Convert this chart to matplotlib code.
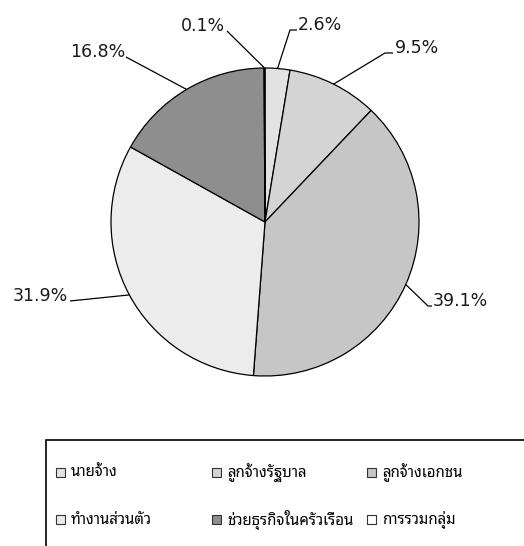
import numpy as np
import matplotlib
matplotlib.use("Agg")
import matplotlib.pyplot as plt
from matplotlib.patches import Rectangle

# data
categories = ["นายจ้าง", "ลูกจ้างรัฐบาล", "ลูกจ้างเอกชน",
              "ทำงานส่วนตัว", "ช่วยธุรกิจในครัวเรือน", "การรวมกลุ่ม"]
shares = [2.6, 9.5, 39.1, 31.9, 16.8, 0.1]
colors = ["#e2e2e2", "#d4d4d4", "#c6c6c6", "#ececec", "#8e8e8e", "#ffffff"]

W, H = 524, 546

def py(y):
    # pixel row (from top) -> data y
    return H - y

fig = plt.figure(figsize=(W / 100, H / 100), dpi=100)
ax = fig.add_axes([0, 0, 1, 1])

wedges, _ = ax.pie(shares, colors=colors, startangle=90, counterclock=False,
                   center=(265, py(222)), radius=154,
                   wedgeprops=dict(edgecolor="black", linewidth=0.9))

ax.set_xlim(0, W)
ax.set_ylim(0, H)
ax.set_aspect("auto")
ax.set_axis_off()

# label layout: (text x, text baseline y, ha, elbow x, stub end x)
label_pos = [
    (298, 30, "left", 290, 297),
    (395, 53, "left", 385, 393),
    (433, 306, "left", 428, 432),
    (68, 301, "right", 128, 70),
    (125, 57, "right", 131, 126),
    (225, 31, "right", 232, 227),
]

for w, v, (tx, ty, ha, ex, sx) in zip(wedges, shares, label_pos):
    mid = np.deg2rad((w.theta1 + w.theta2) / 2)
    cx, cy = w.center
    px_ = cx + w.r * np.cos(mid)
    py_ = cy + w.r * np.sin(mid)
    if ha == "right" and ex < px_ and sx < ex:
        xs = [px_, sx]
        ys = [py_, py(ty)]
    else:
        xs = [px_, ex, sx]
        ys = [py_, py(ty), py(ty)]
    ax.plot(xs, ys, color="black", linewidth=0.9, solid_capstyle="butt")
    ax.text(tx, py(ty), f"{v}%", ha=ha, va="baseline", fontsize=12.5,
            family=["DejaVu Sans"], color="#1a1a1a")

# legend box
ax.add_patch(Rectangle((46, py(560)), 520, 120, facecolor="none",
                       edgecolor="black", linewidth=1.2, clip_on=False))

col_x = [56, 212, 367]
row_y = [472, 519]
for i, (name, c) in enumerate(zip(categories, colors)):
    x = col_x[i % 3]
    y = row_y[i // 3]
    ax.add_patch(Rectangle((x, py(y) - 4.5), 9, 9, facecolor=c,
                           edgecolor="#333333", linewidth=0.8))
    ax.text(x + 15, py(y) - 1, name, ha="left", va="center", fontsize=10.8,
            family=["Noto Sans Thai Looped", "Noto Sans Thai", "DejaVu Sans"],
            color="black")

fig.savefig("out.png", dpi=100)
